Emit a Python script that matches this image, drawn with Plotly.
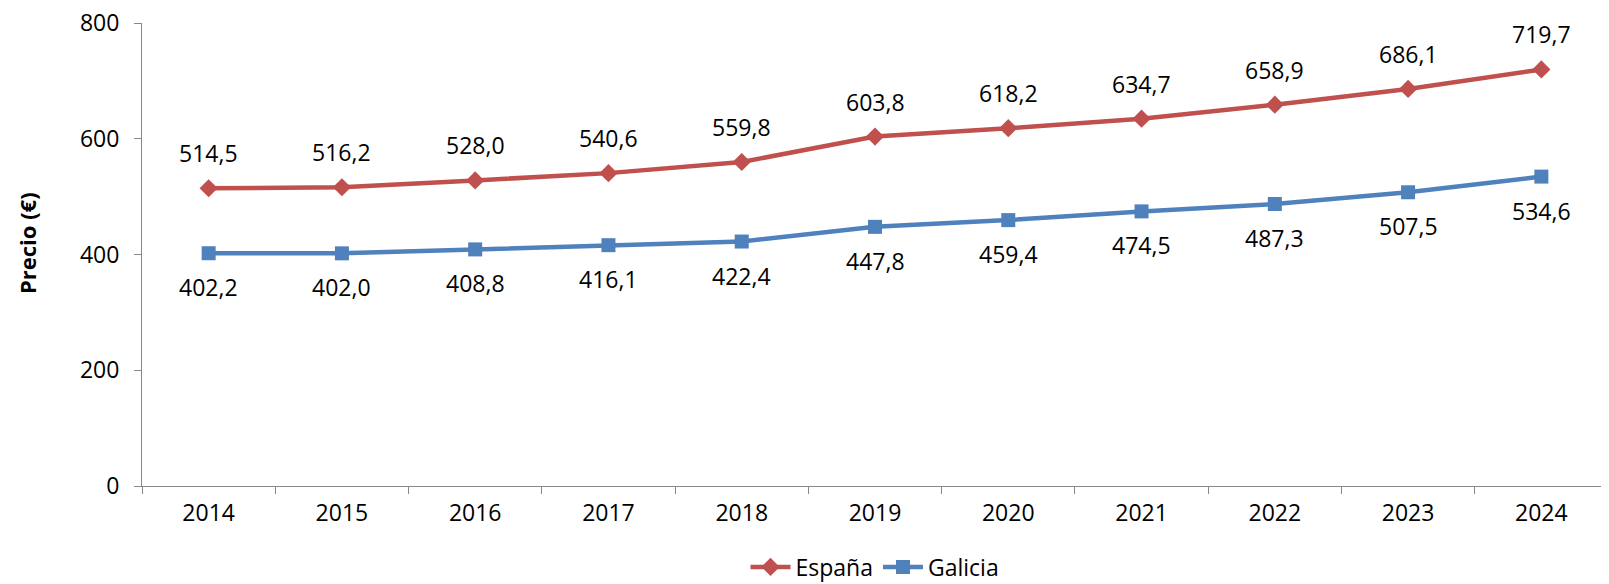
import plotly.graph_objects as go

years = ["2014", "2015", "2016", "2017", "2018", "2019", "2020", "2021", "2022", "2023", "2024"]
espana = [514.5, 516.2, 528.0, 540.6, 559.8, 603.8, 618.2, 634.7, 658.9, 686.1, 719.7]
galicia = [402.2, 402.0, 408.8, 416.1, 422.4, 447.8, 459.4, 474.5, 487.3, 507.5, 534.6]

FONT = "Open Sans"
FS = 23
RED = "#C0504D"
BLUE = "#4F81BD"
OFF = 8  # page body margin
W, H = 1609 - OFF, 584 - OFF
ML, MR, MT, MB = 142 - OFF, 1, 23 - OFF, 98

fig = go.Figure()
fig.add_trace(go.Scatter(x=years, y=espana, name="España", mode="lines+markers",
                         line=dict(color=RED, width=4.5),
                         marker=dict(symbol="diamond", size=14, color=RED)))
fig.add_trace(go.Scatter(x=years, y=galicia, name="Galicia", mode="lines+markers",
                         line=dict(color=BLUE, width=4.5),
                         marker=dict(symbol="square", size=14, color=BLUE)))

def fmt(v):
    return f"{v:.1f}".replace(".", ",")

annotations = []
for i, v in enumerate(espana):
    annotations.append(dict(x=i, y=v, xref="x", yref="y", text=fmt(v), showarrow=False,
                            yshift=35, font=dict(family=FONT, size=FS, color="#000")))
for i, v in enumerate(galicia):
    annotations.append(dict(x=i, y=v, xref="x", yref="y", text=fmt(v), showarrow=False,
                            yshift=-34, font=dict(family=FONT, size=FS, color="#000")))
pw = W - ML - MR
ph = H - MT - MB
annotations.append(dict(x=(27 - OFF - ML) / pw, y=(H - MB - (243 - OFF)) / ph,
                        xref="paper", yref="paper",
                        text="<b>Precio (€)</b>", showarrow=False, textangle=-90,
                        xanchor="center", yanchor="middle",
                        font=dict(family=FONT, size=22, color="#000")))

fig.update_layout(
    width=W, height=H,
    margin=dict(l=ML, r=MR, t=MT, b=MB, autoexpand=False),
    paper_bgcolor="white", plot_bgcolor="white",
    font=dict(family=FONT, size=FS, color="#000"),
    showlegend=True,
    legend=dict(orientation="h", x=0.5, xanchor="center",
                y=(H - MB - (567 - OFF)) / ph, yanchor="middle",
                font=dict(family=FONT, size=FS, color="#000"), itemwidth=40),
    annotations=annotations,
)

fig.update_xaxes(type="category", range=[-0.5, len(years) - 0.5], showline=True,
                 linecolor="#888888", linewidth=1, automargin=False,
                 ticks="outside", tickson="boundaries", ticklen=7, tickcolor="#888888",
                 showgrid=False, zeroline=False, ticklabelstandoff=6, tickangle=0,
                 ticklabeloverflow="allow",
                 tickfont=dict(family=FONT, size=FS, color="#000"))
fig.update_yaxes(range=[0, 800], dtick=200, showline=True, linecolor="#888888", linewidth=1,
                 automargin=False, ticklabeloverflow="allow",
                 ticks="outside", ticklen=7, tickcolor="#888888", showgrid=False, zeroline=False,
                 ticklabelstandoff=10, tickfont=dict(family=FONT, size=FS, color="#000"))

fig.write_html("out.html")
